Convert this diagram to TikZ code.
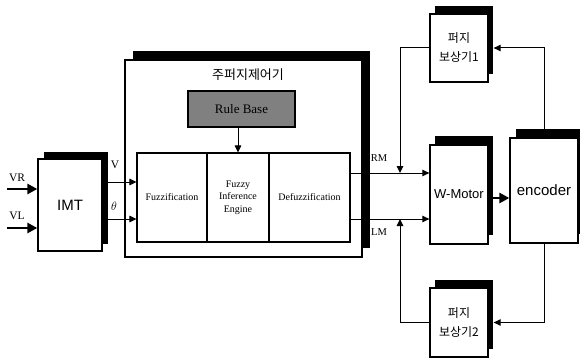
\documentclass[tikz,border=0pt]{standalone}
\usepackage{fontspec}
\setmainfont{Liberation Serif}
\newfontfamily\krfont{Noto Sans CJK KR}
\newfontfamily\arialfont{Liberation Sans}
\usetikzlibrary{arrows.meta,shadows}
\begin{document}
\begin{tikzpicture}[x=1pt,y=-1pt,
  blk/.style={draw,fill=white,line width=1.3pt,inner sep=0pt,align=center},
  sh/.style 2 args={drop shadow={shadow xshift=#1,shadow yshift=#2,fill=black,opacity=1}},
  arr/.style={line width=1pt,-{Triangle[length=7pt,width=6.5pt]}},
  thickarr/.style={line width=2.6pt,-{Triangle[length=10pt,width=10pt]}},
  lbl/.style={inner sep=0pt,font=\fontsize{10.5}{12}\selectfont},
  inner/.style={draw,fill=white,line width=1.1pt,inner sep=0pt,align=center,minimum height=89pt,font=\fontsize{10}{12.5}\selectfont},
  comp/.style={blk,sh={5pt}{8pt},minimum width=58pt,font=\krfont\fontsize{12}{19}\selectfont}
]
\useasboundingbox (0,0) rectangle (580,358);
% IMT
\node[blk,sh={6pt}{7pt},minimum width=64pt,minimum height=92pt,font=\arialfont\fontsize{15}{18}\selectfont] (imt) at (70,205) {IMT};
% main controller
\node[blk,sh={8pt}{9pt},minimum width=237pt,minimum height=197pt] (main) at (243.5,158.5) {};
\node[font=\krfont\fontsize{13}{15}\selectfont,inner sep=0pt] (title) at (248,75) {주퍼지제어기};
\node[draw,line width=1.1pt,fill=gray,minimum width=107pt,minimum height=36pt,inner sep=0pt,font=\fontsize{13}{15}\selectfont] (rule) at (241.5,109) {Rule Base};
\node[inner,minimum width=70pt] (fuzz) at (172,197.5) {Fuzzification};
\node[inner,minimum width=62pt] (inf) at (238,197.5) {Fuzzy\\Inference\\Engine};
\node[inner,minimum width=81pt] (defuzz) at (309.5,197.5) {Defuzzification};
% motor, encoder
\node[blk,sh={5pt}{9pt},minimum width=58pt,minimum height=99pt,font=\arialfont\fontsize{13}{15}\selectfont] (motor) at (459,194.5) {W-Motor};
\node[blk,sh={6pt}{9pt},minimum width=68pt,minimum height=105pt,font=\arialfont\fontsize{15}{18}\selectfont] (enc) at (544,190.5) {encoder};
% compensators
\node[comp,minimum height=68pt] (c1) at (459,48) {퍼지\\보상기1};
\node[comp,minimum height=69pt] (c2) at (459,322.5) {퍼지\\보상기2};
% inputs
\coordinate (vr) at (7,189);
\coordinate (vl) at (7,228);
\draw[thickarr] (vr) -- (vr -| imt.west);
\draw[thickarr] (vl) -- (vl -| imt.west);
\node[lbl,font=\fontsize{11.5}{12}\selectfont] (vrl) at (17,178) {VR};
\node[lbl,font=\fontsize{11.5}{12}\selectfont] (vll) at (17,216) {VL};
% IMT to fuzzification
\draw[arr] (imt.east |- 0,182) -- (fuzz.west |- 0,182);
\draw[arr] (imt.east |- 0,219) -- (fuzz.west |- 0,219);
\node[lbl,font=\fontsize{11.5}{12}\selectfont] (vlab) at (115,165) {V};
\node[lbl,font=\fontsize{13}{13}\selectfont] (thlab) at (114,206) {$\theta$};
% rule base to inference
\draw[arr] (rule.south -| inf.north) -- (inf.north);
% outputs
\draw[arr] (defuzz.east |- 0,173) -- (motor.west |- 0,173);
\draw[arr] (defuzz.east |- 0,219) -- (motor.west |- 0,219);
\node[lbl] (rml) at (379,158) {RM};
\node[lbl] (lml) at (379,232) {LM};
% motor to encoder
\draw[thickarr] (motor.east |- 0,198) -- (enc.west |- 0,198);
% feedback loops
\coordinate (rmj) at (400,173);
\coordinate (lmj) at (400,219);
\draw[arr,shorten >=5pt] (enc.north) |- (c1.east);
\draw[arr] (c1.west) -| (rmj);
\draw[arr,shorten >=5pt] (enc.south) |- (c2.east);
\draw[arr] (c2.west) -| (lmj);
\end{tikzpicture}
\end{document}
